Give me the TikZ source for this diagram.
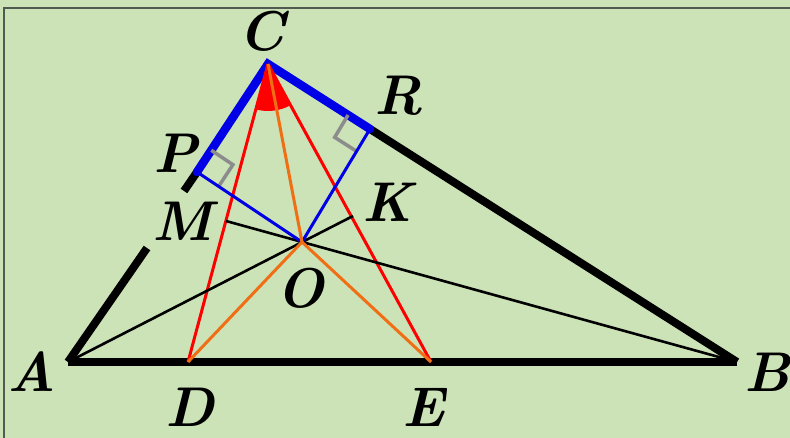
\documentclass[tikz,border=0pt]{standalone}
\usetikzlibrary{calc}
\definecolor{bg}{RGB}{204,227,183}
\definecolor{frame}{RGB}{80,90,80}
\definecolor{myorange}{RGB}{240,110,20}
\definecolor{myblue}{RGB}{0,0,230}
\definecolor{mygray}{RGB}{140,140,140}
\tikzset{
  side/.style={line width=8pt, black},
  sideblue/.style={line width=8.5pt, myblue},
  thinblack/.style={line width=2.6pt, black},
  thinblue/.style={line width=3pt, myblue},
  redline/.style={line width=3pt, red},
  orangeline/.style={line width=3pt, myorange},
  rightmark/.style={line width=3.5pt, mygray},
  lbl/.style={font=\fontsize{56}{62}\selectfont\bfseries\itshape, inner sep=0pt},
}
\begin{document}
\begin{tikzpicture}[x=1pt,y=1pt]
\useasboundingbox (0,0) rectangle (790,-438);
\fill[bg] (0,0) rectangle (790,-438);
\draw[frame, line width=2pt] (4,-460) -- (4,-8) -- (800,-8);
% points
\coordinate (A) at (68,-362);
\coordinate (B) at (737,-362);
\coordinate (C) at (268,-64);
\coordinate (D) at (188,-362);
\coordinate (E) at (431,-362);
\coordinate (O) at (302,-242);
\coordinate (P) at (197,-172);
\coordinate (R) at (370,-129);
\coordinate (M) at (226,-221);
\coordinate (K) at (353,-216);
\coordinate (G1) at (147,-248);
\coordinate (G2) at (184,-191);
% right-angle helper points
\coordinate (P1) at ($(P)!26pt!(C)$);
\coordinate (P2) at ($(P)!26pt!(O)$);
\coordinate (P3) at ($(P1)+(P2)-(P)$);
\coordinate (R1) at ($(R)!26pt!(C)$);
\coordinate (R2) at ($(R)!26pt!(O)$);
\coordinate (R3) at ($(R1)+(R2)-(R)$);
% angle sector
\fill[red] (C) -- ++(255:47) arc[start angle=255, end angle=298.7, radius=47pt] -- cycle;
% sides
\draw[side] (A) -- (B);
\draw[side] (A) -- (G1);
\draw[side] (G2) -- (P);
\draw[side] (R) -- (B);
\draw[sideblue, line cap=round] (P) -- (C) -- (R);
% right angle marks
\draw[rightmark] (P1) -- (P3) -- (P2);
\draw[rightmark] (R1) -- (R3) -- (R2);
% cevians
\draw[redline] (C) -- (D);
\draw[redline] (C) -- (E);
\draw[thinblack] (A) -- (K);
\draw[thinblack] (B) -- (M);
\draw[thinblue] (P) -- (O) -- (R);
\draw[orangeline] (C) -- (O);
\draw[orangeline] (D) -- (O) -- (E);
% labels
\node[lbl] (lC) at (262,-31) {C};
\node[lbl] (lR) at (399,-96) {R};
\node[lbl] (lP) at (176,-153) {P};
\node[lbl] (lK) at (388,-202) {K};
\node[lbl] (lM) at (183,-221) {M};
\node[lbl] (lO) at (300,-288) {O};
\node[lbl] (lA) at (32,-372) {A};
\node[lbl] (lB) at (767,-372) {B};
\node[lbl] (lD) at (190,-407) {D};
\node[lbl] (lE) at (424,-407) {E};
\end{tikzpicture}
\end{document}
